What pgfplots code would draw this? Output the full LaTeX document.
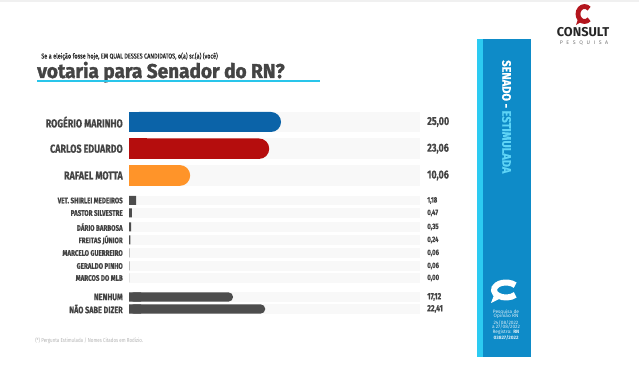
\documentclass[border=0pt]{standalone}
\usepackage{pgfplots}
\pgfplotsset{compat=1.18}
\usepackage{fontspec}
\setmainfont{Fira Sans}
\newfontfamily\cond[FakeStretch=0.78]{Fira Sans}
\newfontfamily\condb[FakeStretch=0.78,FakeBold=0.6]{Fira Sans}
\newfontfamily\condp[FakeStretch=0.9,FakeBold=0.4]{Fira Sans}
\newfontfamily\condt[FakeStretch=0.95,FakeBold=1.6]{Fira Sans}
\newfontfamily\spaced[LetterSpace=70]{Fira Sans}
\definecolor{cBlue}{HTML}{0B63A8}
\definecolor{cRed}{HTML}{B50D0D}
\definecolor{cOrange}{HTML}{FF9429}
\definecolor{cGray}{HTML}{4D4D4D}
\definecolor{cText}{HTML}{444444}
\definecolor{cBand}{HTML}{F8F8F8}
\definecolor{cPanel}{HTML}{0E8BC8}
\definecolor{cStrip}{HTML}{2CCBF2}
\definecolor{cEstim}{HTML}{5ED4F6}
\definecolor{cLogo}{HTML}{B3151D}
\definecolor{cLine}{HTML}{29C5EA}
\newcommand\fs[1]{\fontsize{#1}{#1}\selectfont}
\begin{document}
\begin{tikzpicture}
% ---------- background / decoration axis (pixel coordinates) ----------
\begin{axis}[at={(0,0)}, anchor=south west, scale only axis,
  width=479.25pt, height=288pt, xmin=0, xmax=639, ymin=0, ymax=384,
  y dir=reverse, axis lines=none, clip=false]
  \path (0,0) rectangle (639,384);
  \fill[black!6] (0,0) rectangle (639,2);
  % title
  \node[anchor=base west, text=black!85, font=\condb\fs{5.3pt}, inner xsep=0pt] at (41,58.5) {Se a eleição fosse hoje, EM QUAL DESSES CANDIDATOS, o(a) sr.(a) (você)};
  \node[anchor=base west, text=cText, font=\condt\bfseries\fs{15pt}, inner xsep=0pt] at (37,78) {votaria para Senador do RN?};
  \draw[cLine, line width=1.2pt] (37,80.8) -- (320,80.8);
  % bands
  \fill[cBand] (129,112) rectangle (420,132);
  \fill[cBand] (129,138.5) rectangle (420,159);
  \fill[cBand] (129,165) rectangle (420,186);
  \fill[cBand] (129,195.8) rectangle (420,205.2);
  \fill[cBand] (129,208.3) rectangle (420,217.7);
  \fill[cBand] (129,222.3) rectangle (420,231.7);
  \fill[cBand] (129,235.3) rectangle (420,244.7);
  \fill[cBand] (129,248.3) rectangle (420,257.7);
  \fill[cBand] (129,261.3) rectangle (420,270.7);
  \fill[cBand] (129,273.3) rectangle (420,282.7);
  \fill[cBand] (129,292.3) rectangle (420,301.7);
  \fill[cBand] (129,304.3) rectangle (420,313.7);
  % labels
  \begin{scope}[every node/.style={anchor=east, text=cText, inner xsep=0pt}]
  \node[font=\condb\bfseries\fs{8.6pt}] at (123,122) {ROGÉRIO MARINHO};
  \node[font=\condb\bfseries\fs{8.6pt}] at (123,148.7) {CARLOS EDUARDO};
  \node[font=\condb\bfseries\fs{8.6pt}] at (123,175.5) {RAFAEL MOTTA};
  \node[font=\condb\bfseries\fs{6pt}] at (123,200.5) {VET. SHIRLEI MEDEIROS};
  \node[font=\condb\bfseries\fs{6pt}] at (123,213) {PASTOR SILVESTRE};
  \node[font=\condb\bfseries\fs{6pt}] at (123,227) {DÁRIO BARBOSA};
  \node[font=\condb\bfseries\fs{6pt}] at (123,240) {FREITAS JÚNIOR};
  \node[font=\condb\bfseries\fs{6pt}] at (123,253) {MARCELO GUERREIRO};
  \node[font=\condb\bfseries\fs{6pt}] at (123,266) {GERALDO PINHO};
  \node[font=\condb\bfseries\fs{6pt}] at (123,278) {MARCOS DO MLB};
  \node[font=\condb\bfseries\fs{7pt}] at (123,297) {NENHUM};
  \node[font=\condb\bfseries\fs{7pt}] at (123,309) {NÃO SABE DIZER};
  \end{scope}
  % values
  \begin{scope}[every node/.style={anchor=west, text=cText, inner xsep=0pt}]
  \node[font=\condb\bfseries\fs{8.6pt}] at (427,122) {25,00};
  \node[font=\condb\bfseries\fs{8.6pt}] at (427,148.7) {23,06};
  \node[font=\condb\bfseries\fs{8.6pt}] at (427,175.5) {10,06};
  \node[font=\condb\bfseries\fs{5.8pt}] at (427,200.5) {1,18};
  \node[font=\condb\bfseries\fs{5.8pt}] at (427,213) {0,47};
  \node[font=\condb\bfseries\fs{5.8pt}] at (427,227) {0,35};
  \node[font=\condb\bfseries\fs{5.8pt}] at (427,240) {0,24};
  \node[font=\condb\bfseries\fs{5.8pt}] at (427,253) {0,06};
  \node[font=\condb\bfseries\fs{5.8pt}] at (427,266) {0,06};
  \node[font=\condb\bfseries\fs{5.8pt}] at (427,278) {0,00};
  \node[font=\condb\bfseries\fs{6.8pt}] at (427,297) {17,12};
  \node[font=\condb\bfseries\fs{6.8pt}] at (427,309) {22,41};
  \end{scope}
  % footnote
  \node[anchor=west, text=black!30, font=\cond\fs{4.3pt}, inner xsep=0pt] at (35,341) {(*) Pergunta Estimulada / Nomes Citados em Rodízio.};
  % right panel
  \fill[cPanel] (477,39) rectangle (531,357);
  \fill[cStrip] (477,39) rectangle (483,357);
  \node[rotate=-90, anchor=west, inner xsep=0pt, font=\condp\bfseries\fs{9.2pt}] at (506.5,60)
     {\textcolor{white}{SENADO - }\textcolor{cEstim}{ESTIMULADA}};
  % panel logo
  \draw[white, line width=4.5pt] (506,290) ++(40:12 and 7.5) arc[start angle=40, end angle=320, x radius=12, y radius=7.5];
  \fill[white] (494,295) -- (491,303) -- (501,298) -- cycle;
  \node[align=center, text=white!85!cPanel, font=\fs{3.6pt}, inner sep=0pt, anchor=north] at (506,309)
    {Pesquisa de\\Opinião RN\\24/08/2022\\a 27/08/2022\\Registro: \textbf{RN}\\\textbf{03827/2022}};
  % top-right logo
  \draw[cLogo, line width=3.6pt] (584.5,14) ++(45:6.5 and 7.5) arc[start angle=45, end angle=315, x radius=6.5, y radius=7.5];
  \fill[cLogo] (578,19) -- (576,25) -- (583,21) -- cycle;
  \node[text=black!85, font=\bfseries\fs{9.6pt}, inner sep=0pt] at (583,32.5) {CONSULT};
  \node[text=black!55, font=\spaced\fs{3.9pt}, inner sep=0pt] at (584,42.5) {PESQUISA};
\end{axis}
% ---------- data axis ----------
\begin{axis}[at={(96.75pt,0)}, anchor=south west, scale only axis,
  width=218.25pt, height=288pt, xmin=0, xmax=47.86, ymin=0, ymax=384,
  y dir=reverse, axis lines=none, clip=false]
  % main candidates (rounded right end + square left end)
  \addplot[xbar, bar shift=0pt, bar width=15pt, fill=cBlue, draw=none, rounded corners=7.5pt] coordinates {(25.00,122)};
  \addplot[xbar, bar shift=0pt, bar width=15pt, fill=cBlue, draw=none, x filter/.expression={min(x,3)}] coordinates {(25.00,122)};
  \addplot[xbar, bar shift=0pt, bar width=15.3pt, fill=cRed, draw=none, rounded corners=7.6pt] coordinates {(23.06,148.7)};
  \addplot[xbar, bar shift=0pt, bar width=15.3pt, fill=cRed, draw=none, x filter/.expression={min(x,3)}] coordinates {(23.06,148.7)};
  \addplot[xbar, bar shift=0pt, bar width=15.6pt, fill=cOrange, draw=none, rounded corners=7.8pt] coordinates {(10.06,175.5)};
  \addplot[xbar, bar shift=0pt, bar width=15.6pt, fill=cOrange, draw=none, x filter/.expression={min(x,3)}] coordinates {(10.06,175.5)};
  % minor candidates
  \addplot[xbar, bar shift=0pt, bar width=6.75pt, fill=cGray, draw=none] coordinates {
    (1.18,200.5) (0.47,213) (0.35,227) (0.24,240) (0.06,253) (0.06,266) (0.00,278)};
  % none / don't know
  \addplot[xbar, bar shift=0pt, bar width=7pt, fill=cGray, draw=none, rounded corners=3.5pt] coordinates {(17.12,297) (22.41,309)};
  \addplot[xbar, bar shift=0pt, bar width=7pt, fill=cGray, draw=none, x filter/.expression={min(x,2)}] coordinates {(17.12,297) (22.41,309)};
\end{axis}
\end{tikzpicture}
\end{document}
